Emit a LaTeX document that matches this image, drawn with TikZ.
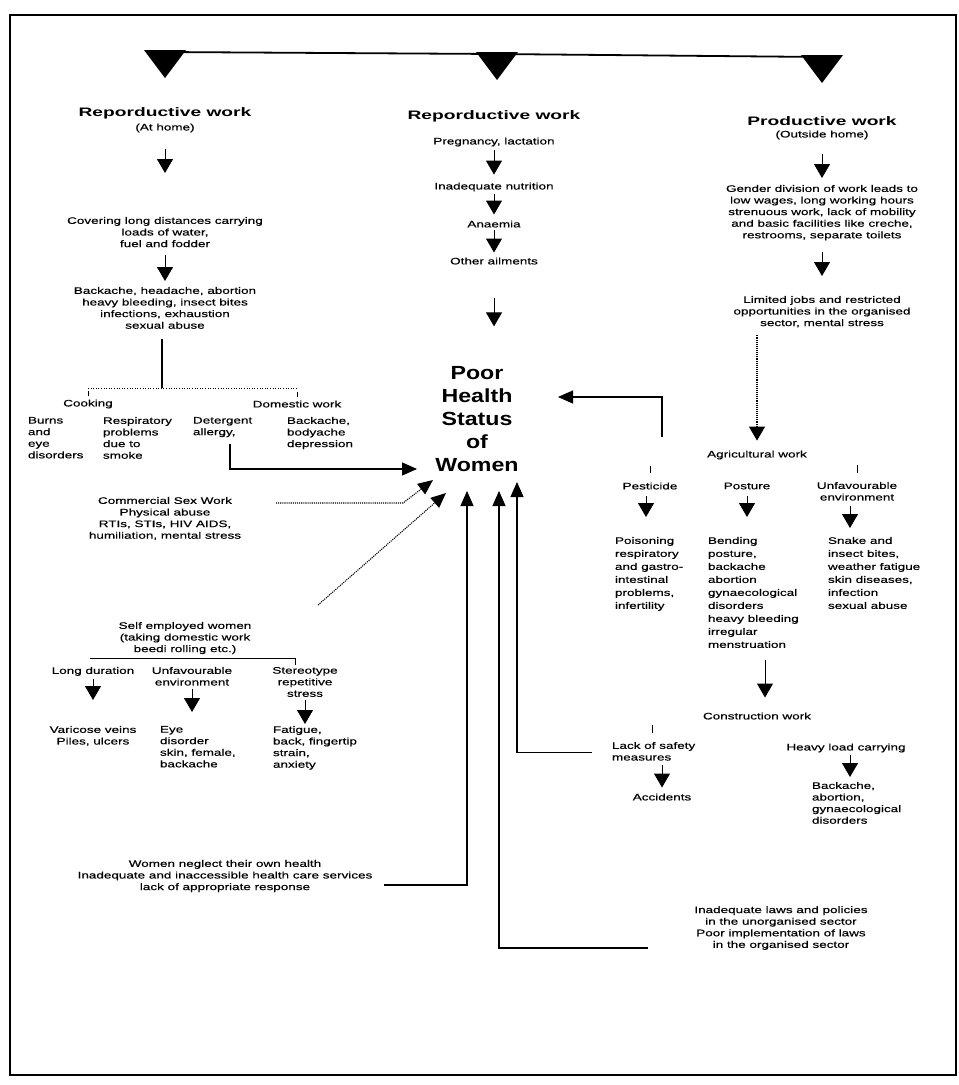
\documentclass[tikz,border=0pt]{standalone}
\usepackage{fontspec}
\setmainfont{Liberation Sans}
\newfontfamily\widesans[FakeStretch=1.42,FakeBold=0.4]{Liberation Sans}
\newfontfamily\headsans[FakeStretch=1.56]{Liberation Sans}
\newfontfamily\bigsans[FakeStretch=1.22]{Liberation Sans}
\usetikzlibrary{arrows.meta}

\tikzset{
  every node/.style={inner sep=0pt, outer sep=0pt},
  txt/.style={font=\widesans\fontsize{9.5}{11.6}\selectfont, align=center},
  txtl/.style={txt, align=left},
  list/.style={font=\widesans\fontsize{9.5}{13}\selectfont, align=left},
  hdr/.style={font=\headsans\bfseries\fontsize{12.3}{14}\selectfont},
  big/.style={font=\bigsans\bfseries\fontsize{19}{23}\selectfont, align=center},
  dn/.style={line width=1pt, -{Triangle[width=16pt,length=14pt]}},
  fb/.style={line width=1.1pt, -{Triangle[width=13pt,length=15pt]}},
  link/.style={line width=0.8pt},
  dots/.style={line width=1.1pt, densely dotted},
  faint/.style={line width=0.6pt, dotted},
}

\begin{document}
\begin{tikzpicture}[x=1pt,y=-1pt]
\useasboundingbox (0,0) rectangle (959,1085);
\fill[white] (0,0) rectangle (959,1085);

% outer frame
\draw[line width=1.1pt] (10,15) rectangle (956,1075);

% top bar with the three branch heads
\coordinate (t1) at (165,52);
\coordinate (t2) at (497,54);
\coordinate (t3) at (822,57);
\draw[line width=1.8pt] (t1) -- (t2) -- (t3);
\foreach \t in {t1,t2,t3}
  \fill (\t) ++(-21,-2) -- ++(42,0) -- ++(-21,28) -- cycle;

% ---------------- left column: reproductive work at home
\node[hdr] (repL) at (165,113) {Reporductive work};
\node[txt] (homeL) at (165,128) {(At home)};
\node[txt,anchor=north] (collect) at (165,217) {Covering long distances carrying\\loads of water,\\fuel and fodder};
\node[txt,anchor=north] (ache) at (165,287) {Backache, headache, abortion\\heavy bleeding, insect bites\\infections, exhaustion\\sexual abuse};
\draw[dn,shorten <=17pt,shorten >=44pt] (homeL.south) -- (collect.north);
\draw[dn,shorten <=8pt,shorten >=6pt] (collect.south) -- (ache.north);

\node[txt] (cook) at (88,404) {Cooking};
\node[txt] (dom) at (297,404) {Domestic work};
\coordinate (splitL) at (162,388);
\draw[line width=1.4pt,shorten <=10pt] (ache.south -| splitL) -- (splitL);
\draw[faint] (cook.north |- splitL) -- (dom.north |- splitL);
\draw[link] ([yshift=9pt]cook.north) -- ([yshift=4pt]cook.north);
\draw[link] ([yshift=9pt]dom.north) -- ([yshift=4pt]dom.north);

\node[txtl,anchor=north west] (burns) at (28,417) {Burns\\and\\eye\\disorders};
\node[txtl,anchor=north west] (resp) at (103,417) {Respiratory\\problems\\due to\\smoke};
\node[txtl,anchor=north west] (deterg) at (193,417) {Detergent\\allergy,};
\node[txtl,anchor=north west] (backd) at (287,417) {Backache,\\bodyache\\depression};

% commercial sex work
\node[txt,anchor=north] (csw) at (165,497) {Commercial Sex Work\\Physical abuse\\RTIs, STIs, HIV AIDS,\\humiliation, mental stress};

% self employed women
\node[txt,anchor=north] (se) at (185,622) {Self employed women\\(taking domestic work\\beedi rolling etc.)};
\coordinate (seL) at (90,658);
\coordinate (seR) at (295,658);
\draw[link] (seL) -- (seR) -- ++(0,7);
\node[txt,anchor=north] (longd) at (93,667) {Long duration};
\node[txt,anchor=north] (unfav) at (192,667) {Unfavourable\\environment};
\node[txt,anchor=north] (stereo) at (305,667) {Stereotype\\repetitive\\stress};
\node[txt,anchor=north] (varic) at (93,726) {Varicose veins\\Piles, ulcers};
\node[txtl,anchor=north west] (eye) at (160,726) {Eye\\disorder\\skin, female,\\backache};
\node[txtl,anchor=north west] (fatig) at (273,726) {Fatigue,\\back, fingertip\\strain,\\anxiety};
\draw[dn,shorten <=3pt,shorten >=26pt] (longd.south) -- (varic.north);
\draw[dn,shorten <=3pt,shorten >=14pt] (unfav.south) -- (eye.north -| unfav.south);
\draw[dn,shorten <=3pt,shorten >=2pt] (stereo.south) -- (fatig.north -| stereo.south);

% women neglecting their health
\node[txt] (neglect) at (225,876) {Women neglect their own health\\Inadequate and inaccessible health care services\\lack of appropriate response};

% ---------------- centre column
\node[hdr] (repC) at (494,116) {Reporductive work};
\node[txt] (preg) at (494,142) {Pregnancy, lactation};
\node[txt] (inad) at (494,187) {Inadequate nutrition};
\node[txt] (anae) at (494,224) {Anaemia};
\node[txt] (other) at (494,261) {Other ailments};
\draw[dn,shorten <=4pt,shorten >=8pt] (preg.south) -- (inad.north);
\draw[dn,shorten <=3pt,shorten >=6pt] (inad.south) -- (anae.north);
\draw[dn,shorten <=3pt,shorten >=5pt] (anae.south) -- (other.north);

\node[big] (poor) at (477,419) {Poor\\Health\\Status\\of\\Women};
\draw[dn,shorten <=34pt,shorten >=40pt] (other.south) -- (poor.north -| other.south);

% ---------------- right column: productive work
\node[hdr] (prod) at (822,121) {Productive work};
\node[txt] (outside) at (822,135) {(Outside home)};
\node[txt,anchor=north] (gender) at (822,185) {Gender division of work leads to\\low wages, long working hours\\strenuous work, lack of mobility\\and basic facilities like creche,\\restrooms, separate toilets};
\node[txt,anchor=north] (limited) at (822,296) {Limited jobs and restricted\\opportunities in the organised\\sector, mental stress};
\draw[dn,shorten <=15pt,shorten >=7pt] (outside.south) -- (gender.north);
\draw[dn,shorten <=12pt,shorten >=20pt] (gender.south) -- (limited.north);

\node[txt] (agri) at (757,455) {Agricultural work};
\draw[dots,-{Triangle[width=16pt,length=14pt]},shorten <=8pt,shorten >=10pt] (limited.south -| agri.north) -- (agri.north);

\node[txt] (pest) at (650,486) {Pesticide};
\node[txt] (post) at (747,486) {Posture};
\node[txt,anchor=north] (unenv) at (857,482) {Unfavourable\\environment};
\draw[link] ([yshift=17pt]pest.north) -- ([yshift=10pt]pest.north);
\draw[link] ([yshift=17pt]unenv.north) -- ([yshift=9pt]unenv.north);

\node[list,anchor=north west] (pestI) at (615,537) {Poisoning\\respiratory\\and gastro-\\intestinal\\problems,\\infertility};
\node[list,anchor=north west] (postI) at (708,537) {Bending\\posture,\\backache\\abortion\\gynaecological\\disorders\\heavy bleeding\\irregular\\menstruation};
\node[list,anchor=north west] (unenvI) at (828,537) {Snake and\\insect bites,\\weather fatigue\\skin diseases,\\infection\\sexual abuse};
\draw[dn,shorten <=7pt,shorten >=20pt] (pest.south -| 646,0) -- (pestI.north -| 646,0);
\draw[dn,shorten <=7pt,shorten >=20pt] (post.south) -- (postI.north -| post.south);
\draw[dn,shorten <=5pt,shorten >=9pt] (unenv.south -| 850,0) -- (unenvI.north -| 850,0);

\node[txt] (constr) at (757,716) {Construction work};
\draw[dn,shorten <=12pt,shorten >=15pt] (postI.south -| 765,0) -- (constr.north -| 765,0);
\draw[link] ([yshift=-6pt]constr.south -| 652,0) -- ++(0,8);

\node[txtl,anchor=north west] (lack) at (612,742) {Lack of safety\\measures};
\node[txt] (acc) at (662,797) {Accidents};
\draw[dn,shorten <=4pt,shorten >=6pt] (lack.south -| acc.north) -- (acc.north);
\node[txt] (heavy) at (846,748) {Heavy load carrying};
\node[txtl,anchor=north west] (heavyI) at (812,782) {Backache,\\abortion,\\gynaecological\\disorders};
\draw[dn,shorten <=3pt,shorten >=5pt] (heavy.south -| 850,0) -- (heavyI.north -| 850,0);

\node[txt] (laws) at (781,928) {Inadequate laws and policies\\in the unorganised sector\\Poor implementation of laws\\in the organised sector};

% ---------------- connectors into the central box
\coordinate (cswTail) at (276,503);
\coordinate (seTail) at (318,605);
\coordinate (agriTap) at (662,437);
\coordinate (lawsTail) at (648,948);
\coordinate (inDom) at (417,469);
\coordinate (inCsw) at (433,480);
\coordinate (inSe) at (446,493);
\coordinate (inNeg) at (467,491);
\coordinate (inLaws) at (499,491);
\coordinate (inLack) at (517,482);
\coordinate (inAgri) at (558,397);

\draw[fb] ([xshift=37pt,yshift=-7pt]deterg.south west) |- (inDom);
\draw[dots,-{Triangle[width=13pt,length=15pt]}] (cswTail) -- (403,503) -- (inCsw);
\draw[dots,-{Triangle[width=13pt,length=15pt]}] (seTail) -- (inSe);
\draw[fb] ([xshift=12pt,yshift=-9pt]neglect.east) -| (inNeg);
\draw[fb] (lawsTail) -| (inLaws);
\draw[fb] ([xshift=-20pt,yshift=-1pt]lack.west) -| (inLack);
\draw[fb] (agriTap) |- (inAgri);

\end{tikzpicture}
\end{document}
